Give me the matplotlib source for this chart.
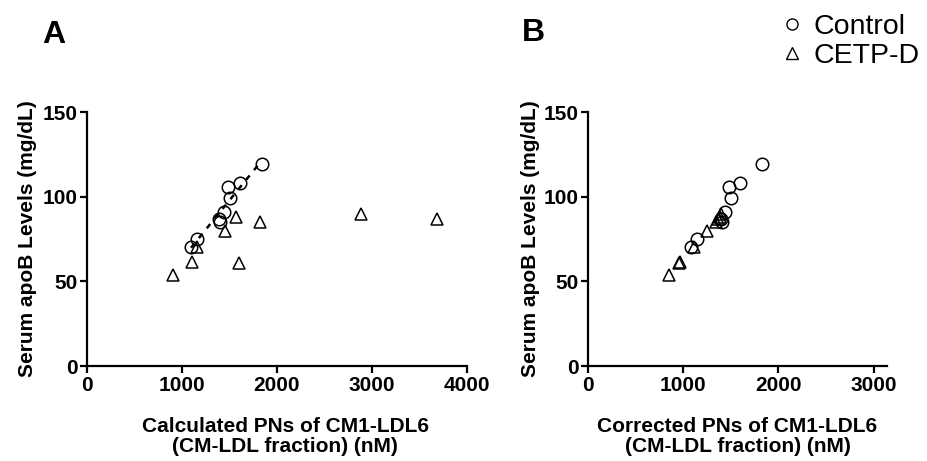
import numpy as np
import matplotlib
matplotlib.use("Agg")
import matplotlib.pyplot as plt
from matplotlib.lines import Line2D

plt.rcParams['font.family'] = ['Liberation Sans', 'DejaVu Sans']

# Panel A - calculated particle numbers
ctrl_a_x = [1095, 1154, 1386, 1404, 1442, 1505, 1484, 1607, 1839]
ctrl_a_y = [70, 75, 87, 85.3, 91, 99, 106, 108, 119]
cetp_a_x = [909, 1102, 1154, 1453, 1572, 1596, 1818, 2881, 3684]
cetp_a_y = [53.7, 61.2, 70.5, 79.5, 87.8, 60.8, 84.9, 89.6, 86.8]

# Panel B - corrected particle numbers
ctrl_b_x = [1080, 1147, 1395, 1402, 1441, 1503, 1479, 1601, 1829]
ctrl_b_y = [70, 75, 87, 85.3, 91, 99, 106, 108, 119]
cetp_b_x = [846, 962, 1108, 1252, 1385, 955, 1340, 1400, 1365]
cetp_b_y = [53.7, 61.2, 70.5, 79.5, 87.8, 60.8, 84.9, 89.6, 86.8]

y_ticks = [0, 50, 100, 150]
a_ticks = [0, 1000, 2000, 3000, 4000]
b_ticks = [0, 1000, 2000, 3000]

W, H = 927, 461
fig = plt.figure(figsize=(W / 100, H / 100), dpi=100)

def box(l, t, r, b):
    return [l / W, 1 - b / H, (r - l) / W, (b - t) / H]

ax_a = fig.add_axes(box(87, 112, 467, 366))
ax_b = fig.add_axes(box(588, 112, 887, 366))

mk = dict(linestyle='none', markersize=9, markerfacecolor='none',
          markeredgecolor='black', markeredgewidth=1.1)

FS = 15

def style(ax, xlim, xt, xlabel):
    ax.set_xlim(0, xlim)
    ax.set_ylim(0, 150)
    ax.set_xticks(xt)
    ax.set_yticks(y_ticks)
    for s in ['top', 'right']:
        ax.spines[s].set_visible(False)
    for s in ['left', 'bottom']:
        ax.spines[s].set_linewidth(1.6)
    ax.tick_params(width=1.6, length=5, labelsize=FS, pad=2)
    for lab in ax.get_xticklabels() + ax.get_yticklabels():
        lab.set_fontweight('bold')
    ax.set_xlabel(xlabel, fontsize=FS, fontweight='bold', linespacing=1.1)
    ax.set_ylabel('Serum apoB Levels (mg/dL)', fontsize=FS, fontweight='bold')
    ax.patch.set_visible(False)

style(ax_a, 4000, a_ticks, 'Calculated PNs of CM1-LDL6\n(CM-LDL fraction) (nM)')
style(ax_b, 3140, b_ticks, 'Corrected PNs of CM1-LDL6\n(CM-LDL fraction) (nM)')
ax_a.xaxis.set_label_coords((285 - 87) / 380, -0.2)
ax_a.yaxis.set_label_coords(-0.132, 0.5)
ax_b.xaxis.set_label_coords(0.5, -0.2)
ax_b.yaxis.set_label_coords(-0.16, 0.5)

# regression line for control in panel A
k, c = np.polyfit(ctrl_a_x, ctrl_a_y, 1)
xs = np.array([min(ctrl_a_x), max(ctrl_a_x)])
ax_a.plot(xs, k * xs + c, color='black', linewidth=1.8, dashes=(2.2, 2.8), zorder=1)

ax_a.plot(cetp_a_x, cetp_a_y, marker='^', **mk)
ax_a.plot(ctrl_a_x, ctrl_a_y, marker='o', **mk)
ax_b.plot(cetp_b_x, cetp_b_y, marker='^', **mk)
ax_b.plot(ctrl_b_x, ctrl_b_y, marker='o', **mk)

fig.text(42 / W, 1 - 43 / H, 'A', fontsize=23, fontweight='bold')
fig.text(522 / W, 1 - 41 / H, 'B', fontsize=23, fontweight='bold')

handles = [Line2D([], [], marker='o', linestyle='none', markersize=8,
                  markerfacecolor='none', markeredgecolor='black'),
           Line2D([], [], marker='^', linestyle='none', markersize=8,
                  markerfacecolor='none', markeredgecolor='black')]
fig.legend(handles, ['Control', 'CETP-D'], loc='upper left',
           bbox_to_anchor=(752 / W, 1.025), frameon=False, fontsize=20.5,
           handletextpad=0.25, handlelength=1.0, labelspacing=0.1)

fig.savefig('out.png', dpi=100)
